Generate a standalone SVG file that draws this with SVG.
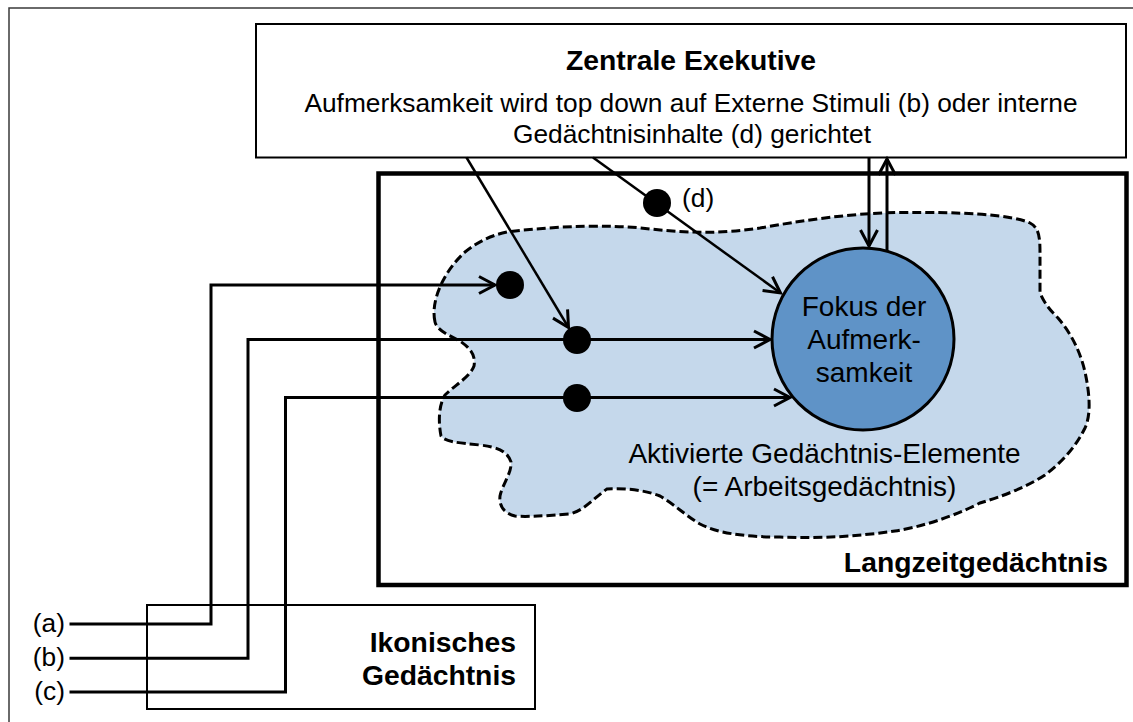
<svg xmlns="http://www.w3.org/2000/svg" width="1133" height="722" viewBox="0 0 1133 722">
  <style>
    .t { font-family: "Liberation Sans", Arial, sans-serif; font-size: 26.3px; fill: #000; }
    .b { font-weight: bold; font-size: 28.3px; }
    .big { font-size: 28px; }
    .box { fill: none; stroke: #000; stroke-width: 2; }
    .conn { fill: none; stroke: #000; stroke-width: 3; }
    .dot { fill: #000; }
  </style>
  <defs>
    <marker id="arr" markerUnits="userSpaceOnUse" viewBox="-20 -12 24 24" markerWidth="24" markerHeight="24" refX="0" refY="0" orient="auto" overflow="visible">
      <path d="M-16,-8.5 L0,0 L-16,8.5" fill="none" stroke="#000" stroke-width="3"/>
    </marker>
  </defs>

  <!-- outer frame -->
  <path d="M9,730 V8 H1140" fill="none" stroke="#3a3a3a" stroke-width="1.5"/>

  <!-- long-term memory -->
  <g id="langzeit">
    <rect x="378.5" y="173.5" width="748" height="411.5" fill="#fff" stroke="#000" stroke-width="4.5"/>
    <text class="t b" x="1108" y="572" text-anchor="end">Langzeitgedächtnis</text>
  </g>

  <!-- activated elements (working memory) -->
  <g id="aktiviert">
    <path d="M435,322 C430,300 445,270 465,252 C480,240 495,234 510,231.5 C560,226 610,224 650,229 C690,233 720,234 760,228 C800,221 850,213 900,212.5 C960,212 1010,214 1030,223 C1040,228 1040,240 1040,255 L1040,293 C1045,305 1052,312 1058,318 C1070,332 1080,350 1085,372 C1090,395 1091,415 1085,428 C1075,448 1062,462 1045,475 C1025,488 1000,497 980,503 C950,518 920,527 895,531 C860,536 820,539 780,537 C740,537 715,532 700,524 C685,515 675,505 660,496 C645,490 625,488 607,489 C595,497 585,510 570,514 C545,516 525,517 515,516 C503,513 499,505 500,496 C502,485 512,473 511,462 C508,452 498,447 480,445 C460,443 445,442 441,436 C438,420 439,405 445,395 C455,385 470,377 474,366 C476,355 470,348 460,341 C448,335 437,330 435,322 Z" fill="#c5d8eb" stroke="#000" stroke-width="3" stroke-dasharray="9 4"/>
    <text class="t big" x="824.5" y="463" text-anchor="middle">Aktivierte Gedächtnis-Elemente</text>
    <text class="t big" x="824.5" y="496" text-anchor="middle">(= Arbeitsgedächtnis)</text>
  </g>

  <!-- focus of attention -->
  <g id="fokus">
    <circle cx="863" cy="339" r="91" fill="#5f93c7" stroke="#000" stroke-width="3"/>
    <text class="t big" x="864" y="316" text-anchor="middle">Fokus der</text>
    <text class="t big" x="864" y="349" text-anchor="middle">Aufmerk-</text>
    <text class="t big" x="864" y="382" text-anchor="middle">samkeit</text>
  </g>

  <!-- central executive -->
  <g id="exekutive">
    <rect x="256" y="24" width="870" height="133.5" fill="#fff" stroke="#000" stroke-width="2"/>
    <text class="t b" x="691" y="69.5" text-anchor="middle">Zentrale Exekutive</text>
    <text class="t" x="691" y="111.7" text-anchor="middle">Aufmerksamkeit wird top down auf Externe Stimuli (b) oder interne</text>
    <text class="t" x="692" y="143" text-anchor="middle">Gedächtnisinhalte (d) gerichtet</text>
  </g>

  <!-- iconic memory -->
  <g id="ikonisch">
    <rect class="box" x="147" y="605" width="388" height="104"/>
    <text class="t b" x="516" y="652" text-anchor="end">Ikonisches</text>
    <text class="t b" x="516" y="685" text-anchor="end">Gedächtnis</text>
  </g>

  <!-- input labels -->
  <g id="labels">
    <text class="t" x="65" y="632" text-anchor="end">(a)</text>
    <text class="t" x="65" y="666" text-anchor="end">(b)</text>
    <text class="t" x="65" y="700" text-anchor="end">(c)</text>
    <text class="t" x="682" y="207">(d)</text>
  </g>

  <!-- connectors -->
  <g id="connectors" class="conn">
    <path d="M69.5,624 H211 V285 H495" marker-end="url(#arr)"/>
    <path d="M69.5,658.3 H248 V339.5 H770" marker-end="url(#arr)"/>
    <path d="M69.5,692 H285.5 V397.5 H790" marker-end="url(#arr)"/>
    <path d="M466.5,157.5 L568.5,327.5" stroke-width="2.5" marker-end="url(#arr)"/>
    <path d="M593,157.5 L780.5,293" stroke-width="2.5" marker-end="url(#arr)"/>
    <path d="M869,157.5 V246" marker-end="url(#arr)"/>
    <path d="M887,251 V159" marker-end="url(#arr)"/>
  </g>

  <!-- junction dots -->
  <g id="dots">
    <circle class="dot" cx="510" cy="285" r="14"/>
    <circle class="dot" cx="577" cy="340" r="14"/>
    <circle class="dot" cx="577" cy="398" r="14"/>
    <circle class="dot" cx="657" cy="203" r="14"/>
  </g>
</svg>
